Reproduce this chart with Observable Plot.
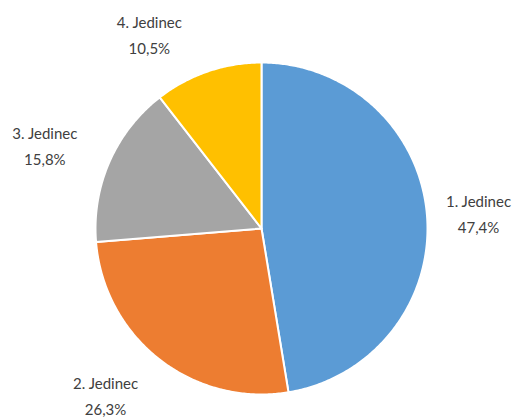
<!DOCTYPE html>
<html>
<head>
<meta charset="utf-8">
<script src="https://cdn.jsdelivr.net/npm/d3@7"></script>
<script src="https://cdn.jsdelivr.net/npm/@observablehq/plot@0.6"></script>
<style>
  html, body { margin: 0; padding: 0; background: #fff; }
  #chart { width: 528px; height: 417px; }
</style>
</head>
<body>
<div id="chart"></div>
<script>
const categories = ["1. Jedinec", "2. Jedinec", "3. Jedinec", "4. Jedinec"];
const values = [47.4, 26.3, 15.8, 10.5];
const percentLabels = ["47,4%", "26,3%", "15,8%", "10,5%"];
const colors = ["#5B9BD5", "#ED7D31", "#A5A5A5", "#FFC000"];

const W = 528, H = 417;
const cx = 261, cy = 228, R = 166;

const arcs = d3.pie().sort(null).value(d => d)(values);

const slicePts = [];
arcs.forEach((a, i) => {
  slicePts.push({name: categories[i], x: 0, y: 0});
  const n = Math.max(2, Math.ceil((a.endAngle - a.startAngle) / 0.01));
  for (let k = 0; k <= n; k++) {
    const t = a.startAngle + (a.endAngle - a.startAngle) * k / n;
    slicePts.push({name: categories[i], x: R * Math.sin(t), y: R * Math.cos(t)});
  }
  slicePts.push({name: categories[i], x: 0, y: 0});
});

// "best fit" style label placement: radial position plus a layout nudge (pixels)
const labelFactor = 1.36;
const labelNudge = [[-8, 2], [-17, -13], [-10, 6], [-39, 18]];
const labelData = arcs.map((a, i) => {
  const m = (a.startAngle + a.endAngle) / 2;
  return {
    text: categories[i] + "\n" + percentLabels[i],
    x: R * labelFactor * Math.sin(m) + labelNudge[i][0],
    y: R * labelFactor * Math.cos(m) - labelNudge[i][1]
  };
});

const chart = Plot.plot({
  width: W,
  height: H,
  margin: 0,
  style: {background: "#fff"},
  x: {domain: [-cx, W - cx], range: [0, W], axis: null},
  y: {domain: [cy - H, cy], range: [H, 0], axis: null},
  color: {domain: categories, range: colors},
  marks: [
    Plot.line(slicePts, {x: "x", y: "y", z: "name", fill: "name", stroke: "#fff", strokeWidth: 2, strokeLinejoin: "round", curve: "linear"}),
    Plot.text(labelData, {x: "x", y: "y", text: "text", fill: "#404040", fontSize: 15, fontFamily: "Lato, 'Open Sans', sans-serif", lineHeight: 1.72})
  ]
});
document.getElementById("chart").appendChild(chart);
</script>
</body>
</html>
